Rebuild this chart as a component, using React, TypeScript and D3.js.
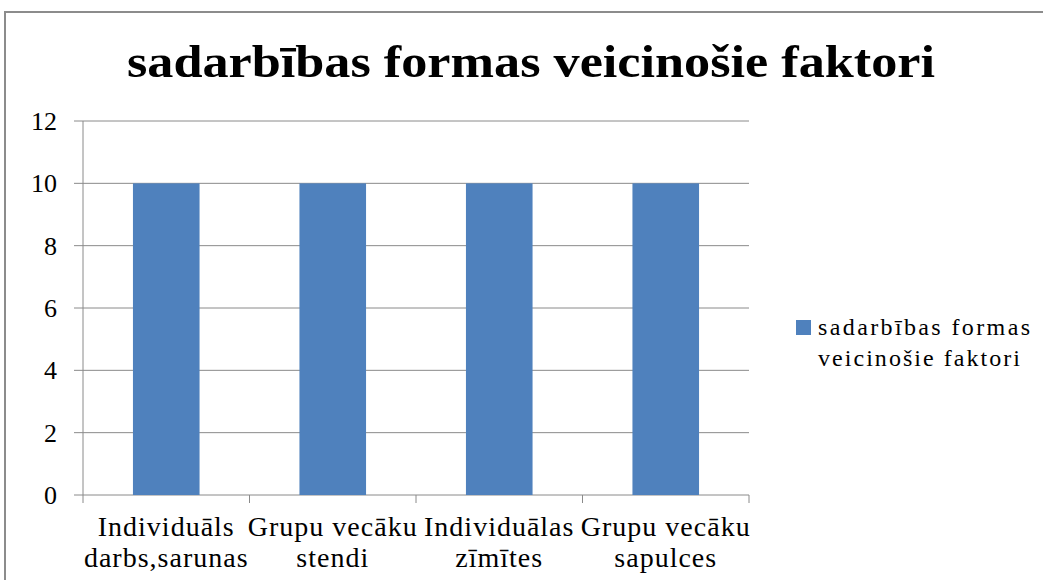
import * as d3 from 'd3';
import React from 'react';

const categories = [
  ['Individuāls', 'darbs,sarunas'],
  ['Grupu vecāku', 'stendi'],
  ['Individuālas', 'zīmītes'],
  ['Grupu vecāku', 'sapulces'],
];
const values = [10, 10, 10, 10];
const yTicks = [0, 2, 4, 6, 8, 10, 12];
const title = 'sadarbības formas veicinošie faktori';
const legendLines = ['sadarbības formas', 'veicinošie faktori'];

const W = 1043;
const H = 580;
const margin = { left: 83, right: 294, top: 121, bottom: 85 };

export default function App() {
  const keys = categories.map(c => c.join(' '));
  const x = d3.scaleBand()
    .domain(keys)
    .range([margin.left, W - margin.right])
    .paddingInner(0.6)
    .paddingOuter(0.3);
  const y = d3.scaleLinear()
    .domain([0, 12])
    .range([H - margin.bottom, margin.top]);
  const step = x.step();
  // category separators sit halfway between bars
  const bandEdges = keys.map(k => x(k)! - step * 0.3).concat([W - margin.right]);

  return (
    <svg width={W} height={H}
      style={{ position: 'absolute', left: 0, top: 0, background: '#fff', fontFamily: "'Liberation Serif', serif" }}>
      <rect x={5} y={12} width={1100} height={700} fill="#fff" stroke="#8c8c8c" strokeWidth={2} />
      <text x={531} y={77} textAnchor="middle" fontWeight="bold" fontSize={46}
        textLength={808} lengthAdjust="spacingAndGlyphs">{title}</text>

      {yTicks.map(t => (
        <g key={t}>
          <line x1={margin.left - 9} x2={W - margin.right} y1={y(t)} y2={y(t)} stroke="#8a8a8a" strokeWidth={1} />
          <text x={57} y={y(t) + 9} textAnchor="end" fontSize={26}>{t}</text>
        </g>
      ))}
      <line x1={margin.left} x2={margin.left} y1={margin.top} y2={y(0)} stroke="#8a8a8a" />
      {bandEdges.map((e, i) => (
        <line key={i} x1={e} x2={e} y1={y(0)} y2={y(0) + 8} stroke="#8a8a8a" />
      ))}

      {values.map((v, i) => (
        <rect key={i} x={x(keys[i])} y={y(v)} width={x.bandwidth()} height={y(0) - y(v)} fill="#4f81bd" />
      ))}

      {categories.map((c, i) => (
        <text key={i} textAnchor="middle" fontSize={28} letterSpacing={1}>
          {c.map((line, j) => (
            <tspan key={j} x={x(keys[i])! + x.bandwidth() / 2} y={536 + j * 31}>{line}</tspan>
          ))}
        </text>
      ))}

      <rect x={796} y={320} width={15} height={15} fill="#4f81bd" />
      {legendLines.map((l, j) => (
        <text key={j} x={818} y={335 + j * 31} fontSize={24}
          textLength={j === 0 ? 212 : 202} lengthAdjust="spacing">{l}</text>
      ))}
    </svg>
  );
}
